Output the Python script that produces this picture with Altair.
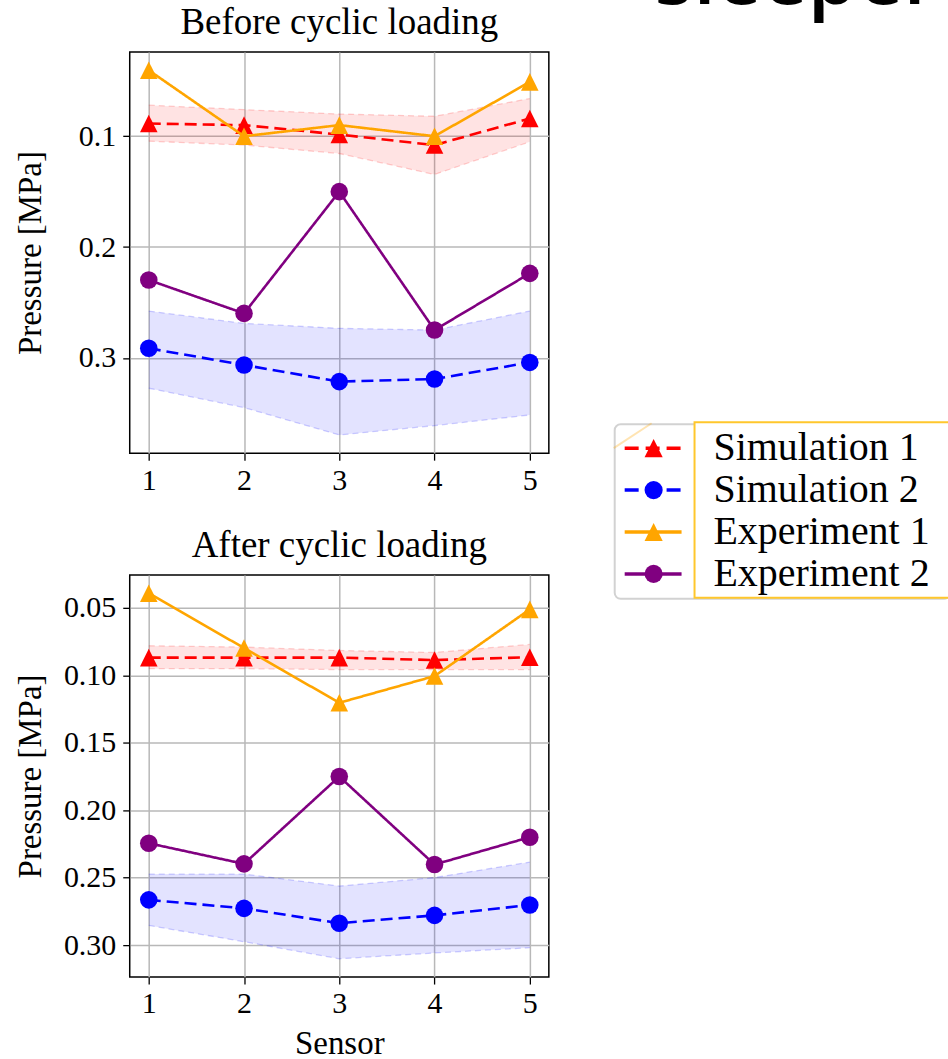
import altair as alt
import pandas as pd

sensors = [1, 2, 3, 4, 5]
series_names = ["Simulation 1", "Simulation 2", "Experiment 1", "Experiment 2"]

# ---- Before cyclic loading (MPa) ----
before_sim1 = [0.0886, 0.0900, 0.0985, 0.1080, 0.0840]
before_sim1_lo = [0.0720, 0.0760, 0.0800, 0.0820, 0.0660]
before_sim1_hi = [0.1045, 0.1080, 0.1156, 0.1345, 0.1050]
before_sim2 = [0.2913, 0.3063, 0.3213, 0.3190, 0.3040]
before_sim2_lo = [0.2577, 0.2688, 0.2733, 0.2748, 0.2577]
before_sim2_hi = [0.3273, 0.3447, 0.3694, 0.3610, 0.3514]
before_exp1 = [0.0405, 0.1000, 0.0900, 0.1000, 0.0510]
before_exp2 = [0.2297, 0.2598, 0.1500, 0.2748, 0.2237]

# ---- After cyclic loading (MPa) ----
after_sim1 = [0.0868, 0.0868, 0.0868, 0.0886, 0.0865]
after_sim1_lo = [0.0780, 0.0790, 0.0815, 0.0830, 0.0770]
after_sim1_hi = [0.0950, 0.0950, 0.0957, 0.0957, 0.0957]
after_sim2 = [0.2665, 0.2728, 0.2838, 0.2780, 0.2703]
after_sim2_lo = [0.2474, 0.2474, 0.2563, 0.2500, 0.2385]
after_sim2_hi = [0.2855, 0.2975, 0.3102, 0.3059, 0.3020]
after_exp1 = [0.0390, 0.0797, 0.1203, 0.1005, 0.0510]
after_exp2 = [0.2245, 0.2398, 0.1750, 0.2403, 0.2200]

before_ticks = [0.1, 0.2, 0.3]
after_ticks = [0.05, 0.10, 0.15, 0.20, 0.25, 0.30]
heading = "sleeper"

TRI = "M0,-1L-1,1L1,1Z"
styles = {
    "Simulation 1": dict(color="#ff0000", dash=[12, 6], shape=TRI),
    "Simulation 2": dict(color="#0000ff", dash=[12, 6], shape="circle"),
    "Experiment 1": dict(color="#ffa500", dash=[1, 0], shape=TRI),
    "Experiment 2": dict(color="#800080", dash=[1, 0], shape="circle"),
}
SERIF = "Liberation Serif"
HEAD_SIZE = 80
HEAD_ASC = round(0.8 * HEAD_SIZE)   # vega's text-bounds ascent estimate
TOP_PLOT = 50                        # page y of the upper plot frame (= right panel origin)
HEAD_BASE = 2                        # page y of the heading baseline (cropped slide heading)
REACH = (TOP_PLOT - HEAD_BASE) + HEAD_ASC


def panel(title, vals, bands, ticks, fmt, xtitle, height):
    allv = [v for s in vals.values() for v in s]
    for lo_a, hi_a in bands.values():
        allv += lo_a + hi_a
    lo, hi = min(allv), max(allv)
    m = 0.05 * (hi - lo)
    ydom = [lo - m, hi + m]
    span = max(sensors) - min(sensors)
    xdom = [min(sensors) - 0.05 * span, max(sensors) + 0.05 * span]

    if xtitle:
        xaxis = alt.Axis(values=sensors, format="d", grid=True, labelPadding=5,
                         title=xtitle, titlePadding=9, labelFlush=False)
    else:
        xaxis = alt.Axis(values=sensors, format="d", grid=True, labelPadding=5,
                         title=None, labelFlush=False)
    xenc = alt.X("sensor:Q", scale=alt.Scale(domain=xdom, nice=False, zero=False),
                 axis=xaxis)
    yscale = alt.Scale(domain=ydom, reverse=True, nice=False, zero=False)
    yaxis = alt.Axis(values=ticks, format=fmt, grid=True, minExtent=70, maxExtent=70,
                     labelPadding=7, titlePadding=12, labelFlush=False,
                     title="Pressure [MPa]")

    def Y(f):
        return alt.Y(f + ":Q", scale=yscale, axis=yaxis)

    layers = []
    for name, (lo_a, hi_a) in bands.items():
        df = pd.DataFrame({"sensor": sensors, "lo": lo_a, "hi": hi_a})
        c = styles[name]["color"]
        base = alt.Chart(df)
        layers.append(base.mark_area(color=c, opacity=0.11).encode(
            x=xenc, y=Y("lo"), y2="hi:Q"))
        for f in ["lo", "hi"]:
            layers.append(base.mark_line(color=c, opacity=0.18, strokeDash=[6, 4],
                                         strokeWidth=1.3).encode(x=xenc, y=Y(f)))
    for name in series_names:
        st = styles[name]
        df = pd.DataFrame({"sensor": sensors, "value": vals[name]})
        base = alt.Chart(df)
        layers.append(base.mark_line(color=st["color"], strokeWidth=2.6,
                                     strokeDash=st["dash"]).encode(x=xenc, y=Y("value")))
        layers.append(base.mark_point(color=st["color"], filled=True, opacity=1,
                                      shape=st["shape"], size=310).encode(
            x=xenc, y=Y("value")))
    return alt.layer(*layers).properties(
        width=420, height=height, title=alt.TitleParams(text=title, frame="group"),
        view=alt.ViewBackground(stroke="black", strokeWidth=1.5))


top = panel("Before cyclic loading",
            {"Simulation 1": before_sim1, "Simulation 2": before_sim2,
             "Experiment 1": before_exp1, "Experiment 2": before_exp2},
            {"Simulation 1": (before_sim1_lo, before_sim1_hi),
             "Simulation 2": (before_sim2_lo, before_sim2_hi)},
            before_ticks, ".1f", None, 402)
bottom = panel("After cyclic loading",
               {"Simulation 1": after_sim1, "Simulation 2": after_sim2,
                "Experiment 1": after_exp1, "Experiment 2": after_exp2},
               {"Simulation 1": (after_sim1_lo, after_sim1_hi),
                "Simulation 2": (after_sim2_lo, after_sim2_hi)},
               after_ticks, ".2f", "Sensor", 403)

left = alt.vconcat(top, bottom, spacing=30)

# ---- right panel: legend and the cropped slide heading ----
X0 = 549            # page x of right panel origin
RW = 946 - X0
RH = 560


def rx(px):
    return px - X0


def ry(py):
    return py - TOP_PLOT


legend_df = pd.DataFrame({"series": series_names})
ys = alt.Scale(type="point", domain=series_names, range=[ry(447), ry(573)], padding=0)
one = pd.DataFrame({"t": [heading]})

r_layers = [
    alt.Chart(one).mark_text(font="Open Sans", fontSize=HEAD_SIZE, fontWeight=600,
                             align="left", baseline="alphabetic", color="black").encode(
        text="t:N", x=alt.value(rx(653)), y=alt.value(ry(HEAD_BASE))),
    alt.Chart(one).mark_rect(fill="white", stroke="#d2d2d2", strokeWidth=2,
                             cornerRadius=6).encode(
        x=alt.value(rx(613)), x2=alt.value(RW + 3), y=alt.value(ry(423)),
        y2=alt.value(ry(598))),
    alt.Chart(one).mark_rule(color="#ffa500", opacity=0.3, strokeWidth=2).encode(
        x=alt.value(rx(612)), x2=alt.value(rx(650)), y=alt.value(ry(447)),
        y2=alt.value(ry(422))),
    alt.Chart(one).mark_rect(fill="white", stroke="#ffc72c", strokeWidth=2).encode(
        x=alt.value(rx(693)), x2=alt.value(RW + 3), y=alt.value(ry(421)),
        y2=alt.value(ry(597))),
]
for name in series_names:
    st = styles[name]
    d = legend_df[legend_df.series == name]
    yenc = alt.Y("series:N", scale=ys, axis=None)
    r_layers.append(alt.Chart(d).mark_rule(
        color=st["color"], strokeWidth=3.5,
        strokeDash=[14, 7] if st["dash"][1] else [1, 0]).encode(
        x=alt.value(rx(623)), x2=alt.value(rx(680)), y=yenc))
    r_layers.append(alt.Chart(d).mark_point(color=st["color"], filled=True, opacity=1,
                                            shape=st["shape"], size=330).encode(
        x=alt.value(rx(652)), y=yenc))
r_layers.append(alt.Chart(legend_df).mark_text(align="left", baseline="middle", font=SERIF,
                                               fontSize=40, color="black").encode(
    x=alt.value(rx(712)), y=alt.Y("series:N", scale=ys, axis=None), text="series:N"))

right = alt.layer(*r_layers).properties(
    width=RW, height=RH, view=alt.ViewBackground(stroke="transparent"))

chart = alt.hconcat(left, right, spacing=0).properties(
    padding={"left": 14, "top": TOP_PLOT - REACH, "right": -4, "bottom": -4}
).configure_axis(
    labelFont=SERIF, labelFontSize=30, labelColor="black",
    titleFont=SERIF, titleFontSize=33, titleFontWeight="normal", titleColor="black",
    tickColor="black", tickSize=7, tickWidth=1.3, domain=False,
    gridColor="#b8b8b8", gridWidth=1.5
).configure_title(
    font=SERIF, fontSize=37, fontWeight="normal", color="black", anchor="middle", offset=10
).configure_view(stroke="black")

chart.save("out.html", embed_options={"renderer": "svg", "actions": False})
